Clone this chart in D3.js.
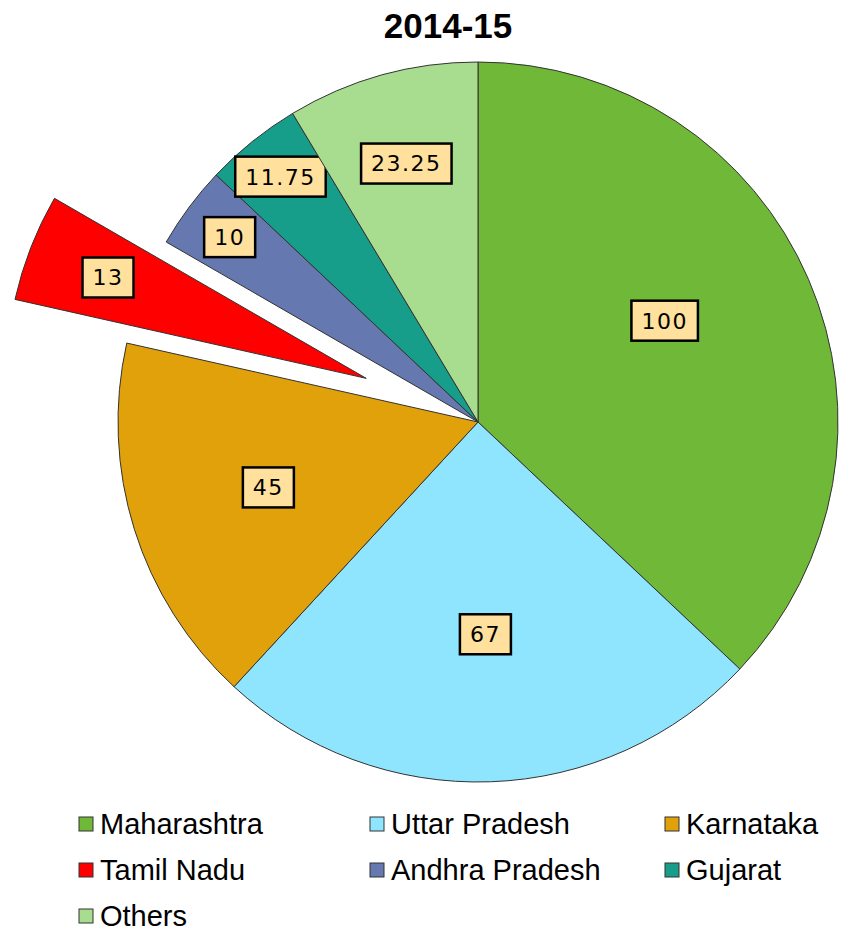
<!DOCTYPE html>
<html>
<head>
<meta charset="utf-8">
<script src="https://cdn.jsdelivr.net/npm/d3@7"></script>
<style>
  body { margin: 0; background: #fff; }
</style>
</head>
<body>
<div class="chart"></div>
<script>
// data
var states = ['Maharashtra', 'Uttar Pradesh', 'Karnataka', 'Tamil Nadu', 'Andhra Pradesh', 'Gujarat', 'Others'];
var values = [100, 67, 45, 13, 10, 11.75, 23.25];
var colors = ['#70b838', '#8ee5fd', '#e0a10b', '#ff0000', '#6578b0', '#179e8a', '#a8dc8f'];
var exploded = ['Tamil Nadu'];
// how far out each label sits (fraction of radius)
var labelPos = [0.59, 0.59, 0.61, 0.77, 0.86, 0.875, 0.745];

var settings = {
  w: 846,
  h: 932,
  cx: 478,
  cy: 422,
  radius: 360,
  explode: 120
};

var svg = d3.select('.chart')
  .append('svg')
  .attr('width', settings.w)
  .attr('height', settings.h)
  .style('display', 'block');

svg.append('text')
  .attr('x', 448)
  .attr('y', 38)
  .attr('text-anchor', 'middle')
  .style('font-family', 'Liberation Sans, Arial, sans-serif')
  .style('font-weight', 'bold')
  .style('font-size', '35px')
  .text('2014-15');

var slices = states.map(function(s, i) {
  return {name: s, value: values[i], color: colors[i], lr: labelPos[i]};
});

var pie = d3.pie().sort(null).value(function(d) { return d.value; });
var arc = d3.arc().innerRadius(0).outerRadius(settings.radius);
var arcs = pie(slices);

var g = svg.append('g')
  .attr('transform', 'translate(' + settings.cx + ',' + settings.cy + ')');

var shift = function(d) {
  if (exploded.indexOf(d.data.name) < 0) return [0, 0];
  var a = (d.startAngle + d.endAngle) / 2;
  return [Math.sin(a) * settings.explode, -Math.cos(a) * settings.explode];
};

var sliceG = g.selectAll('g.slice')
  .data(arcs)
  .enter()
  .append('g')
  .attr('class', 'slice')
  .attr('transform', function(d) {
    var s = shift(d);
    return 'translate(' + s[0] + ',' + s[1] + ')';
  });

sliceG.append('path')
  .attr('d', arc)
  .attr('fill', function(d) { return d.data.color; })
  .attr('stroke', '#333')
  .attr('stroke-width', 1);

// data labels
sliceG.each(function(d) {
  var a = (d.startAngle + d.endAngle) / 2;
  // the big slice label sits a bit earlier than its middle in the original
  if (d.index === 0) a -= 0.09;
  var r = settings.radius * d.data.lr;
  var x = Math.sin(a) * r, y = -Math.cos(a) * r;
  var lg = d3.select(this).append('g').attr('transform', 'translate(' + x + ',' + y + ')');
  var t = lg.append('text')
    .attr('text-anchor', 'middle')
    .attr('dy', '0.36em')
    .style('font-family', 'DejaVu Sans, sans-serif')
    .style('font-size', '22px')
    .style('letter-spacing', '1.5px')
    .text(d.data.value);
  var bb = t.node().getBBox();
  lg.insert('rect', 'text')
    .attr('x', bb.x - 10)
    .attr('y', -20)
    .attr('width', bb.width + 20)
    .attr('height', 40)
    .attr('fill', '#ffe09c')
    .attr('stroke', '#000')
    .attr('stroke-width', 2.5);
});

// legend
var cols = [79, 370, 665];
var rows = [824, 870, 916];
var legend = svg.selectAll('g.legend')
  .data(slices)
  .enter()
  .append('g')
  .attr('class', 'legend')
  .attr('transform', function(d, i) {
    return 'translate(' + cols[i % 3] + ',' + rows[Math.floor(i / 3)] + ')';
  });

legend.append('rect')
  .attr('x', 0)
  .attr('y', -7)
  .attr('width', 14)
  .attr('height', 14)
  .attr('fill', function(d) { return d.color; })
  .attr('stroke', '#333')
  .attr('stroke-width', 1);

legend.append('text')
  .attr('x', 21)
  .attr('y', 0)
  .attr('dy', '0.36em')
  .style('font-family', 'Liberation Sans, Arial, sans-serif')
  .style('font-size', '29px')
  .text(function(d) { return d.name; });
</script>
</body>
</html>
